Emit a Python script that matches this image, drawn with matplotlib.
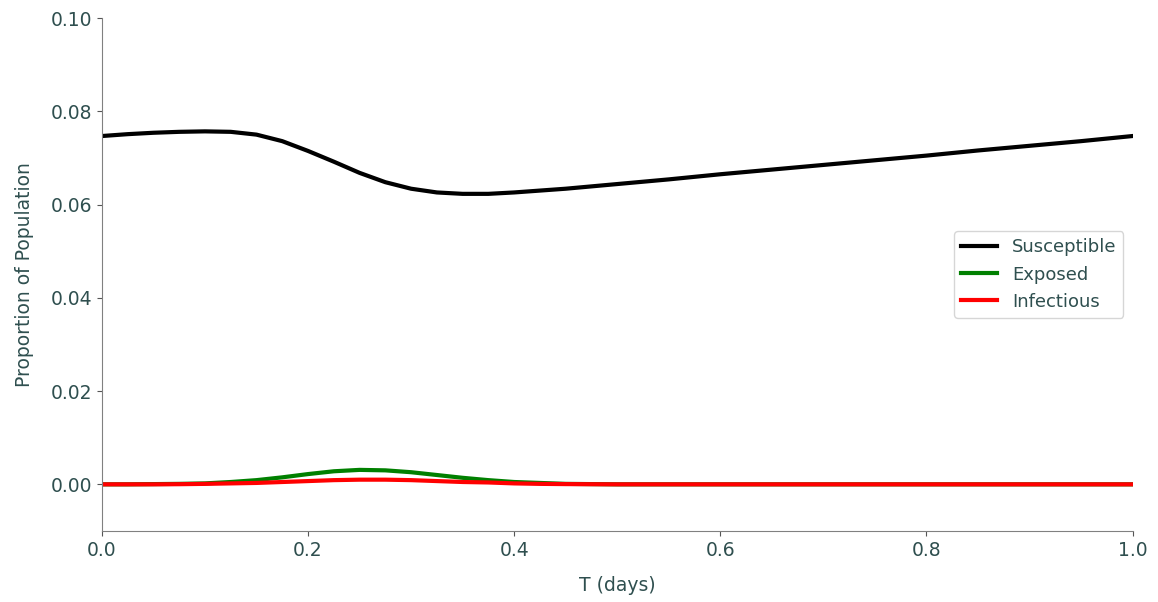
import matplotlib
matplotlib.use('Agg')
import matplotlib.pyplot as plt
import numpy as np

# valores
t = [0.0, 0.025, 0.05, 0.075, 0.1, 0.125, 0.15, 0.175, 0.2, 0.225,
     0.25, 0.275, 0.3, 0.325, 0.35, 0.375, 0.4, 0.425, 0.45,
     0.5, 0.55, 0.6, 0.65, 0.7, 0.75, 0.8, 0.85, 0.9, 0.95, 1.0]
susceptible = [0.0747, 0.0751, 0.0754, 0.0756, 0.0757, 0.0756, 0.0750, 0.0736,
               0.0715, 0.0692, 0.0668, 0.0648, 0.0634, 0.0626, 0.0623, 0.0623,
               0.0626, 0.0630, 0.0634,
               0.0644, 0.0654, 0.0665, 0.0675, 0.0685, 0.0695, 0.0705, 0.0716,
               0.0726, 0.0736, 0.0747]
exposed = [0.0, 0.0, 0.00005, 0.0001, 0.0002, 0.0005, 0.0009, 0.0015, 0.0022,
           0.0028, 0.0031, 0.0030, 0.0026, 0.0020, 0.0014, 0.0009, 0.0005,
           0.0003, 0.0001,
           0.0, 0.0, 0.0, 0.0, 0.0, 0.0, 0.0, 0.0, 0.0, 0.0, 0.0]
infectious = [0.0, 0.0, 0.0, 0.00003, 0.0001, 0.0002, 0.0003, 0.0005, 0.0007,
              0.0009, 0.0010, 0.0010, 0.0009, 0.0007, 0.0005, 0.0004, 0.0002,
              0.0001, 0.00005,
              0.0, 0.0, 0.0, 0.0, 0.0, 0.0, 0.0, 0.0, 0.0, 0.0, 0.0]

text_color = '#2f4f4f'
plt.rcParams['font.family'] = ['DejaVu Sans']
plt.rcParams['text.color'] = text_color
plt.rcParams['axes.labelcolor'] = text_color
plt.rcParams['xtick.color'] = '#555555'
plt.rcParams['ytick.color'] = '#555555'
plt.rcParams['xtick.labelcolor'] = text_color
plt.rcParams['ytick.labelcolor'] = text_color
plt.rcParams['font.size'] = 13.5

fig = plt.figure(figsize=(11.58, 6.02), dpi=100)
ax = fig.add_axes([0.088, 0.118, 0.89, 0.852])

ax.plot(t, susceptible, color='black', lw=3, label='Susceptible')
ax.plot(t, exposed, color='green', lw=3, label='Exposed')
ax.plot(t, infectious, color='red', lw=3, label='Infectious')

ax.set_xlim(0, 1.0)
ax.set_ylim(-0.01, 0.10)
ax.set_yticks([0.0, 0.02, 0.04, 0.06, 0.08, 0.10])
ax.yaxis.set_major_formatter(matplotlib.ticker.FormatStrFormatter('%.2f'))
ax.set_xticks([0.0, 0.2, 0.4, 0.6, 0.8, 1.0])
ax.xaxis.set_major_formatter(matplotlib.ticker.FormatStrFormatter('%.1f'))

for s in ['top', 'right']:
    ax.spines[s].set_visible(False)
for s in ['left', 'bottom']:
    ax.spines[s].set_color('#808080')

ax.set_xlabel('T (days)', labelpad=12)
ax.set_ylabel('Proportion of Population', labelpad=12)
ax.legend(loc='center right', fontsize=13)

plt.savefig('out.png', dpi=100)
